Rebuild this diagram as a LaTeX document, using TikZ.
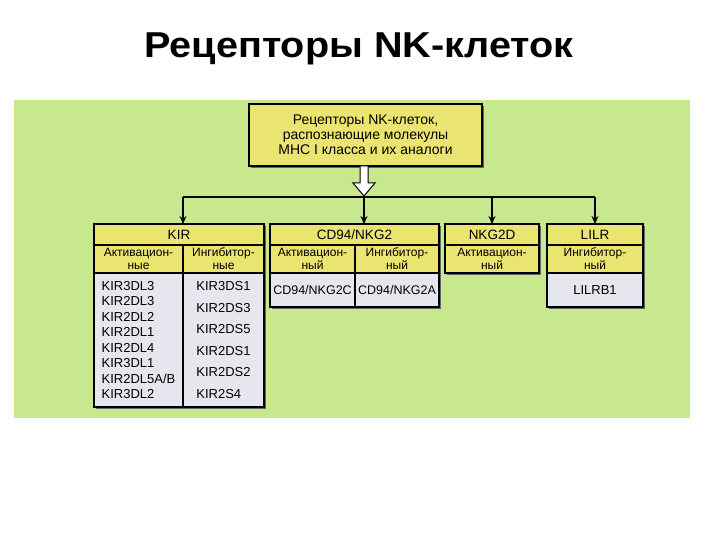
\documentclass[tikz,border=0pt]{standalone}
\usepackage{fontspec}
\setmainfont{Liberation Sans}
\newfontfamily\titlefont[FakeStretch=1.1]{Liberation Sans}
\usepackage{tikz}
\usetikzlibrary{arrows.meta,positioning,shadows}
\definecolor{bggreen}{RGB}{200,232,142}
\definecolor{hdryellow}{RGB}{234,228,112}
\definecolor{cellgray}{RGB}{230,230,238}

\begin{document}
\begin{tikzpicture}[
    x=1pt, y=-1pt,
    every node/.style={inner sep=0pt, outer sep=0pt, font=\fontsize{13}{15.5}\selectfont},
    boxshadow/.style={drop shadow={shadow xshift=2pt, shadow yshift=-2pt, fill=black!60, opacity=1}},
    cell/.style={draw, line width=1.1pt, anchor=north west, align=center, boxshadow},
    head/.style={cell, fill=hdryellow, minimum height=21pt, font=\fontsize{13.5}{16}\selectfont},
    sub/.style={cell, fill=hdryellow, minimum height=28pt, font=\fontsize{12}{13}\selectfont},
    data/.style={cell, fill=cellgray},
    topbox/.style={draw, line width=1.1pt, fill=hdryellow, boxshadow, align=center,
        minimum width=233pt, minimum height=62pt, font=\fontsize{14}{14.8}\selectfont},
    bus/.style={line width=2.4pt},
    feed/.style={line width=2.4pt, -{Stealth[length=8pt, width=7pt]}},
    hollow/.style={draw, line width=1pt, fill=white}
]

\fill[white] (0,0) rectangle (720,540);
\fill[bggreen] (14,100) rectangle (690,418);

\node[font=\titlefont\bfseries\fontsize{36}{40}\selectfont, anchor=base] (title) at (359,58) {Рецепторы NK-клеток};

\node[topbox] (top) at (365.5,135) {Рецепторы NK-клеток,\\распознающие молекулы\\МНС I класса и их аналоги};

% KIR
\node[head, minimum width=170pt] (kir) at (94,224) {KIR};
\node[sub, minimum width=89pt] (kirA) at (94,245) {Активацион-\\ные};
\node[sub, minimum width=81pt, right=0pt of kirA] (kirI) {Ингибитор-\\ные};
\node[data, minimum width=89pt, minimum height=134pt, align=left, below=0pt of kirA] (kirAlist)
    {KIR3DL3\\KIR2DL3\\KIR2DL2\\KIR2DL1\\KIR2DL4\\KIR3DL1\\KIR2DL5A/B\\KIR3DL2};
\node[data, minimum width=81pt, minimum height=134pt, align=left, below=0pt of kirI,
    font=\fontsize{13}{21.6}\selectfont] (kirIlist)
    {KIR3DS1\\KIR2DS3\\KIR2DS5\\KIR2DS1\\KIR2DS2\\KIR2S4};

% CD94/NKG2
\node[head, minimum width=169pt] (cd) at (270,224) {CD94/NKG2};
\node[sub, minimum width=85pt] (cdA) at (270,245) {Активацион-\\ный};
\node[sub, minimum width=84pt, right=0pt of cdA] (cdI) {Ингибитор-\\ный};
\node[data, minimum width=85pt, minimum height=34pt, below=0pt of cdA, font=\fontsize{12.5}{15}\selectfont] (cdAlist) {CD94/NKG2C};
\node[data, minimum width=84pt, minimum height=34pt, below=0pt of cdI, font=\fontsize{12.5}{15}\selectfont] (cdIlist) {CD94/NKG2A};

% NKG2D
\node[head, minimum width=94pt] (nkg) at (445,224) {NKG2D};
\node[sub, minimum width=94pt] (nkgA) at (445,245) {Активацион-\\ный};

% LILR
\node[head, minimum width=96pt] (lilr) at (547,224) {LILR};
\node[sub, minimum width=96pt] (lilrI) at (547,245) {Ингибитор-\\ный};
\node[data, minimum width=96pt, minimum height=34pt, below=0pt of lilrI] (lilrIlist) {LILRB1};

% Connections
\coordinate (hub) at (364,197);
\draw[hollow] (top.south -| hub) ++(-4,0) -- ++(0,17) -- ++(-7,0) -- ++(11,13) -- ++(11,-13) -- ++(-7,0) -- ++(0,-17) -- cycle;
\draw[bus] (hub -| kirA.east) -- (hub -| lilr.north);
\draw[feed] (hub -| kirA.east) -- (kirA.east |- kir.north);
\draw[feed] (hub) -- (hub |- cd.north);
\draw[feed] (hub -| nkg.north) -- (nkg.north);
\draw[feed] (hub -| lilr.north) -- (lilr.north);

\end{tikzpicture}
\end{document}
